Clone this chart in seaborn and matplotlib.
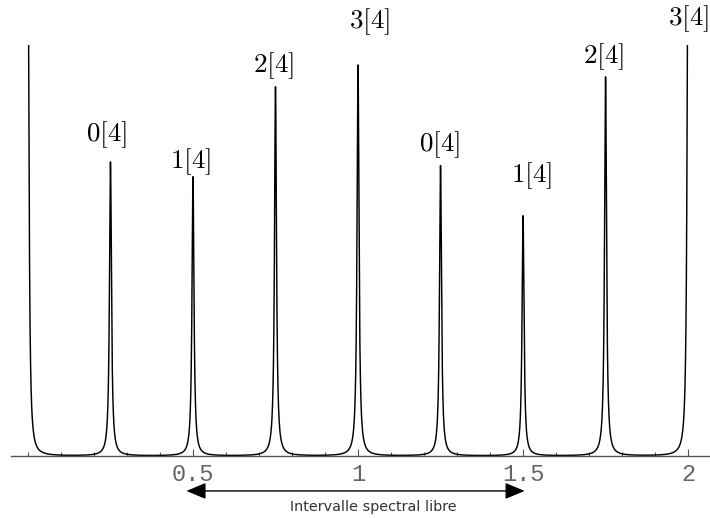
import numpy as np
import pandas as pd
import seaborn as sns
import matplotlib
matplotlib.use("Agg")
import matplotlib.pyplot as plt
from matplotlib.ticker import MultipleLocator, FixedLocator, FixedFormatter

# ---- data ----
peak_pos = [0.0, 0.25, 0.5, 0.75, 1.0, 1.25, 1.5, 1.75, 2.0]
peak_height = [1.30, 0.715, 0.679, 0.898, 0.951, 0.706, 0.584, 0.922, 1.30]
peak_halfwidth = 0.0036

label_text = ["0[4]", "1[4]", "2[4]", "3[4]", "0[4]", "1[4]", "2[4]", "3[4]"]
label_x = [0.239, 0.491, 0.743, 1.036, 1.248, 1.526, 1.743, 2.0]
label_y = [0.766, 0.701, 0.934, 1.041, 0.742, 0.667, 0.956, 1.049]

tick_values = [0.5, 1.0, 1.5, 2.0]
tick_labels = ["0.5", "1", "1.5", "2"]

arrow_from = 0.48
arrow_to = 1.505
arrow_text = "Intervalle spectral libre"

# ---- build spectrum (sum of Lorentzian modes) ----
x = np.linspace(0.0, 2.0, 40001)
y = np.zeros_like(x)
for p, h in zip(peak_pos, peak_height):
    y += h / (1.0 + ((x - p) / peak_halfwidth) ** 2)
df = pd.DataFrame({"nu": x, "I": y})

sns.set_theme(style="white")
plt.rcParams["mathtext.fontset"] = "cm"

fig = plt.figure(figsize=(7.10, 5.18), dpi=100)
W, H = 710.0, 518.0
ax = fig.add_axes([11 / W, (H - 456) / H, (710 - 11) / W, (456 - 45) / H])

sns.lineplot(data=df, x="nu", y="I", ax=ax, color="black", linewidth=1.05,
             estimator=None, sort=False)

ax.set_xlim(-0.0514, 2.0665)
ax.set_ylim(0, 1.0)
ax.set_xlabel("")
ax.set_ylabel("")

for s in ["left", "right", "top"]:
    ax.spines[s].set_visible(False)
ax.spines["bottom"].set_color("#555555")
ax.spines["bottom"].set_linewidth(1.0)

ax.yaxis.set_visible(False)
ax.xaxis.set_major_locator(FixedLocator(tick_values))
ax.xaxis.set_major_formatter(FixedFormatter(tick_labels))
ax.xaxis.set_minor_locator(MultipleLocator(0.1))
ax.tick_params(axis="x", which="major", direction="in", length=5, width=0.8,
               color="#555555", pad=5, labelsize=17, labelcolor="#666666",
               bottom=True)
ax.tick_params(axis="x", which="minor", direction="in", length=3, width=0.8,
               color="#555555", bottom=True)
for lab in ax.get_xticklabels():
    lab.set_fontfamily("Liberation Mono")

for t, lx, ly in zip(label_text, label_x, label_y):
    ax.text(lx, ly, "$" + t + "$", ha="center", va="baseline", fontsize=19.5,
            clip_on=False, color="black")

ax.annotate("", xy=(arrow_to, -0.085), xytext=(arrow_from, -0.085),
            xycoords="data", textcoords="data", annotation_clip=False,
            arrowprops=dict(arrowstyle="<|-|>,head_length=1.2,head_width=0.5",
                            mutation_scale=10, color="black", lw=1.0,
                            shrinkA=0, shrinkB=0))
ax.text(1.045, -0.124, arrow_text, ha="center", va="center", fontsize=10.4,
        color="#333333", family="DejaVu Sans", clip_on=False)

fig.savefig("out.png", dpi=100)
